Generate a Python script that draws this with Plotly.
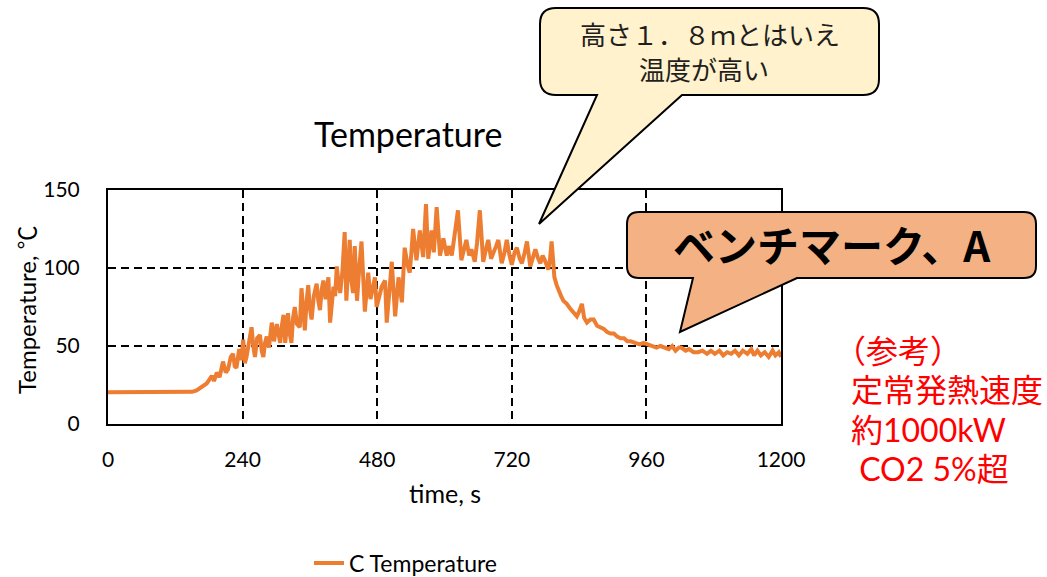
import plotly.graph_objects as go

# Measured ceiling-gas temperature at point C
time_s = [0, 30, 60, 90, 120, 150, 158, 164, 170, 176, 181, 185, 189, 194, 199, 205, 210, 214, 219, 223,
          226, 229, 234, 238, 241, 244, 247, 251, 256, 259, 262, 266, 271, 274, 277, 280, 283, 287, 292, 296,
          301, 304, 307, 310, 313, 316, 319, 321, 324, 327, 330, 333, 337, 342, 345, 348, 351, 354, 357, 360,
          363, 367, 372, 375, 378, 381, 384, 388, 393, 396, 399, 402, 405, 408, 411, 414, 418, 422, 425, 428,
          431, 434, 437, 440, 444, 448, 452, 458, 461, 464, 468, 472, 476, 479, 484, 488, 494, 497, 501, 506,
          512, 515, 518, 524, 527, 529, 534, 538, 541, 544, 550, 553, 556, 562, 567, 571, 574, 577, 581, 586,
          592, 598, 604, 608, 613, 618, 624, 630, 635, 639, 644, 648, 654, 658, 663, 669, 674, 678, 683, 687,
          692, 696, 702, 707, 711, 716, 720, 725, 729, 734, 738, 743, 747, 753, 758, 762, 767, 771, 775, 779,
          785, 788, 791, 796, 800, 803, 808, 812, 818, 824, 830, 836, 840, 845, 849, 854, 860, 866, 872, 878,
          884, 890, 896, 902, 908, 914, 920, 926, 932, 940, 948, 955, 962, 970, 978, 985, 992, 1000, 1006, 1012,
          1018, 1022, 1030, 1036, 1044, 1052, 1060, 1068, 1075, 1082, 1090, 1097, 1104, 1111, 1118, 1125, 1132,
          1140, 1147, 1152, 1158, 1164, 1171, 1178, 1185, 1190, 1196, 1200]
temp_c = [20.3, 20.3, 20.3, 20.3, 20.4, 20.6, 21.5, 23, 24.5, 26, 28.5, 31, 27.5, 33, 30, 40, 33, 35, 43, 45,
          37, 36, 48, 41, 54, 39, 43, 52, 62, 50, 43, 55, 57, 47, 43, 52, 56, 49, 65, 53,
          64, 58, 52, 63, 70, 52, 66, 71, 58, 52, 68, 75, 64, 62, 87, 70, 60, 78, 89, 74,
          67, 82, 90, 79, 73, 86, 92, 80, 94, 65, 78, 88, 82, 101, 90, 84, 98, 123, 79, 96,
          118, 92, 84, 114, 79, 100, 117, 72, 88, 97, 80, 86, 94, 75, 83, 88, 92, 65, 82, 104,
          69, 85, 94, 78, 100, 113, 102, 97, 110, 125, 105, 116, 124, 107, 141, 106, 118, 124, 110, 139,
          108, 119, 108, 114, 108, 122, 137, 105, 112, 118, 108, 112, 104, 116, 137, 104, 112, 118, 106, 109,
          114, 118, 103, 110, 118, 108, 102, 110, 113, 106, 103, 110, 117, 101, 108, 112, 106, 103, 108, 105,
          99, 105, 117, 94, 89, 86, 82, 79, 77, 74, 71, 69, 72, 77, 68, 65, 67, 67, 63, 62,
          61, 59, 58, 58, 56, 55, 55, 53, 53, 52, 51, 52, 51, 50, 49, 50, 49, 48, 50, 47,
          49, 49, 47, 48, 46, 46, 47, 45, 47, 45, 47, 44, 46, 45, 47, 44, 47,
          45, 48, 44, 47, 44, 46, 43, 47, 44, 46, 43]

x_ticks = [0, 240, 480, 720, 960, 1200]
y_ticks = [0, 50, 100, 150]

series_name = "C Temperature"
chart_title = "Temperature"
x_title = "time, s"
y_title = "Temperature, ℃"
note_bubble = ["高さ１．８ｍとはいえ", "温度が高い"]
case_bubble = "ベンチマーク、A"
remarks = ["（参考）", "定常発熱速度", "約1000kW", " CO2 5%超"]

W, H = 1047, 577
L, R, T, B = 108, 781, 190, 424
LATIN = "Lato, 'Noto Sans CJK JP', sans-serif"
CJK = "'Noto Sans CJK JP', sans-serif"
DASH = "8px,5px"


def fx(x):
    return (x - L) / (R - L)


def fy(y):
    return (B - y) / (B - T)


def bubble_path(x0, y0, x1, y1, r, base_right, base_left, tip):
    pts = []
    def P(cmd, *xy):
        s = cmd
        for i in range(0, len(xy), 2):
            s += f"{fx(xy[i]):.5f},{fy(xy[i + 1]):.5f} "
        pts.append(s)
    P("M", x0 + r, y0)
    P("L", x1 - r, y0)
    P("Q", x1, y0, x1, y0 + r)
    P("L", x1, y1 - r)
    P("Q", x1, y1, x1 - r, y1)
    P("L", base_right, y1)
    P("L", tip[0], tip[1])
    P("L", base_left, y1)
    P("L", x0 + r, y1)
    P("Q", x0, y1, x0, y1 - r)
    P("L", x0, y0 + r)
    P("Q", x0, y0, x0 + r, y0)
    return " ".join(pts) + "Z"


fig = go.Figure()
fig.add_trace(go.Scatter(
    x=time_s, y=temp_c, mode="lines", name=series_name,
    line=dict(color="#ED7D31", width=4),
))

shapes = [
    dict(type="path", xref="paper", yref="paper", layer="above",
         path=bubble_path(540, 8, 879, 95, 16, 682, 597, (539, 224)),
         fillcolor="#FFF2CC", line=dict(color="black", width=2)),
    dict(type="path", xref="paper", yref="paper", layer="above",
         path=bubble_path(627, 212, 1036, 278, 12, 797, 693, (680, 332)),
         fillcolor="#F4B183", line=dict(color="black", width=2)),
]

annotations = [
    dict(text=chart_title, x=fx(408), y=fy(133), xref="paper", yref="paper",
         showarrow=False, font=dict(family=LATIN, size=34, color="black"),
         xanchor="center", yanchor="middle"),
    dict(text=note_bubble[0], x=fx(710), y=fy(33), xref="paper", yref="paper",
         showarrow=False, font=dict(family=CJK, size=26, color="#1f1f1f"),
         xanchor="center", yanchor="middle"),
    dict(text=note_bubble[1], x=fx(704), y=fy(68), xref="paper", yref="paper",
         showarrow=False, font=dict(family=CJK, size=26, color="#1f1f1f"),
         xanchor="center", yanchor="middle"),
    dict(text=f"<b>{case_bubble}</b>", x=fx(832), y=fy(243), xref="paper", yref="paper",
         showarrow=False, font=dict(family=CJK, size=42, color="black"),
         xanchor="center", yanchor="middle"),
]
remark_x = [832, 849, 849, 849]
for i, line in enumerate(remarks):
    annotations.append(dict(
        text=line, x=fx(remark_x[i]), y=fy(350 + 39.5 * i), xref="paper", yref="paper",
        showarrow=False, font=dict(family=LATIN, size=32, color="#FF0000"),
        xanchor="left", yanchor="middle"))

annotations.append(dict(
    text=y_title, x=fx(26), y=fy(310), xref="paper", yref="paper", textangle=-90,
    showarrow=False, font=dict(family=LATIN, size=24, color="black"),
    xanchor="center", yanchor="middle"))
annotations.append(dict(
    text=x_title, x=fx(445), y=fy(493), xref="paper", yref="paper",
    showarrow=False, font=dict(family=LATIN, size=25, color="black"),
    xanchor="center", yanchor="middle"))

fig.update_layout(
    width=W, height=H,
    margin=dict(l=L, r=W - R, t=T, b=H - B, pad=0, autoexpand=False),
    paper_bgcolor="white", plot_bgcolor="white",
    font=dict(family=LATIN, color="black", size=21),
    showlegend=True,
    legend=dict(orientation="h", x=fx(406), y=(H - 563) / H, xref="paper", yref="container",
                xanchor="center", yanchor="middle",
                font=dict(family=LATIN, size=23, color="black"), bgcolor="rgba(0,0,0,0)"),
    shapes=shapes,
    annotations=annotations,
)
fig.update_xaxes(
    range=[0, 1200], tickvals=x_ticks, ticktext=[str(v) for v in x_ticks],
    showgrid=True, gridcolor="black", gridwidth=1.6, griddash=DASH,
    showline=True, linecolor="black", linewidth=2, mirror=True,
    ticks="", ticklabelstandoff=16, zeroline=False, automargin=False,
    tickfont=dict(family=LATIN, size=21),
)
fig.update_yaxes(
    range=[0, 150], tickvals=y_ticks, ticktext=[str(v) for v in y_ticks],
    showgrid=True, gridcolor="black", gridwidth=1.6, griddash=DASH,
    showline=True, linecolor="black", linewidth=2, mirror=True,
    ticks="", ticklabelstandoff=22, zeroline=False, automargin=False,
    tickfont=dict(family=LATIN, size=21),
)

fig.write_html("out.html")
